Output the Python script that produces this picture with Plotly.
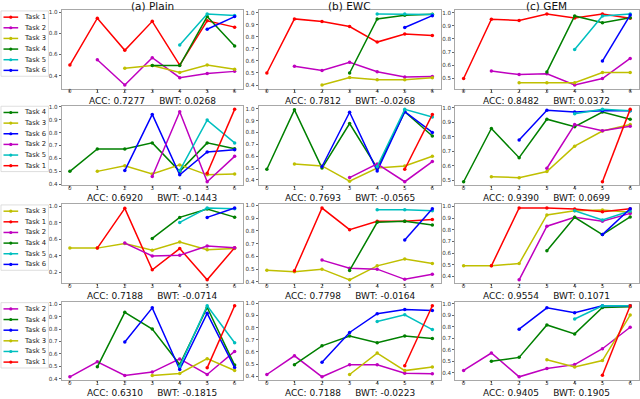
import plotly.graph_objects as go
from plotly.subplots import make_subplots

# ---------------- data ----------------
STEPS = [0, 1, 2, 3, 4, 5, 6]
METHODS = ["(a) Plain", "(b) EWC", "(c) GEM"]
TASK_COLORS = {"Task 1": "#ff0000", "Task 2": "#bf00bf", "Task 3": "#bfbf00",
               "Task 4": "#008000", "Task 5": "#00bfbf", "Task 6": "#0000ff"}

ORDER_1 = ["Task 1", "Task 2", "Task 3", "Task 4", "Task 5", "Task 6"]
ORDER_2 = ["Task 4", "Task 3", "Task 6", "Task 2", "Task 5", "Task 1"]
ORDER_3 = ["Task 3", "Task 1", "Task 2", "Task 4", "Task 5", "Task 6"]
ORDER_4 = ["Task 2", "Task 4", "Task 6", "Task 3", "Task 5", "Task 1"]

# accuracy of each task after each training step (task k of the order starts at step k)
PLAIN_1 = {"Task 1": [0.50, 0.945, 0.64, 0.915, 0.50, 0.92, 0.86],
           "Task 2": [0.55, 0.31, 0.57, 0.38, 0.42, 0.44],
           "Task 3": [0.47, 0.495, 0.43, 0.50, 0.46],
           "Task 4": [0.495, 0.495, 0.96, 0.68],
           "Task 5": [0.69, 0.985, 0.97],
           "Task 6": [0.84, 0.96]}
EWC_1 = {"Task 1": [0.50, 0.948, 0.926, 0.885, 0.756, 0.822, 0.81],
         "Task 2": [0.556, 0.52, 0.589, 0.51, 0.466, 0.47],
         "Task 3": [0.40, 0.463, 0.444, 0.444, 0.46],
         "Task 4": [0.50, 0.948, 0.978, 0.986],
         "Task 5": [0.989, 0.989, 0.985],
         "Task 6": [0.877, 0.975]}
GEM_1 = {"Task 1": [0.50, 0.95, 0.94, 0.99, 0.96, 0.99, 0.957],
         "Task 2": [0.556, 0.53, 0.535, 0.45, 0.50, 0.652],
         "Task 3": [0.467, 0.467, 0.467, 0.546, 0.546],
         "Task 4": [0.55, 0.975, 0.924, 0.962],
         "Task 5": [0.72, 0.975, 0.99],
         "Task 6": [0.632, 0.982]}

PLAIN_2 = {"Task 4": [0.50, 0.673, 0.673, 0.72, 0.50, 0.72, 0.675],
           "Task 3": [0.50, 0.543, 0.48, 0.55, 0.473, 0.48],
           "Task 6": [0.506, 0.94, 0.473, 0.65, 0.667],
           "Task 2": [0.46, 0.96, 0.42, 0.616],
           "Task 5": [0.506, 0.896, 0.72],
           "Task 1": [0.486, 0.979]}
EWC_2 = {"Task 4": [0.49, 0.99, 0.50, 0.875, 0.50, 0.975, 0.77],
         "Task 3": [0.535, 0.518, 0.39, 0.50, 0.518, 0.60],
         "Task 6": [0.513, 0.97, 0.476, 0.975, 0.80],
         "Task 2": [0.42, 0.535, 0.385, 0.555],
         "Task 5": [0.513, 0.994, 0.93],
         "Task 1": [0.49, 0.95]}
GEM_2 = {"Task 4": [0.49, 0.858, 0.656, 0.922, 0.87, 0.972, 0.922],
         "Task 3": [0.525, 0.518, 0.56, 0.736, 0.84, 0.885],
         "Task 6": [0.778, 0.984, 0.972, 0.98, 0.98],
         "Task 2": [0.583, 0.885, 0.842, 0.874],
         "Task 5": [0.96, 0.99, 0.98],
         "Task 1": [0.49, 0.99]}

PLAIN_3 = {"Task 3": [0.495, 0.495, 0.55, 0.47, 0.568, 0.475, 0.49],
           "Task 1": [0.495, 0.976, 0.232, 0.49, 0.111, 0.50],
           "Task 2": [0.556, 0.40, 0.41, 0.52, 0.50],
           "Task 4": [0.612, 0.867, 0.968, 0.87],
           "Task 5": [0.806, 0.98, 0.97],
           "Task 6": [0.867, 0.98]}
EWC_3 = {"Task 3": [0.492, 0.48, 0.50, 0.416, 0.526, 0.58, 0.545],
         "Task 1": [0.487, 0.98, 0.81, 0.876, 0.876, 0.89],
         "Task 2": [0.571, 0.508, 0.50, 0.42, 0.46],
         "Task 4": [0.49, 0.868, 0.876, 0.847],
         "Task 5": [0.966, 0.966, 0.958],
         "Task 6": [0.73, 0.974]}
GEM_3 = {"Task 3": [0.49, 0.49, 0.51, 0.927, 0.963, 0.969, 0.95],
         "Task 1": [0.49, 0.986, 0.986, 0.977, 0.955, 0.98],
         "Task 2": [0.37, 0.83, 0.907, 0.873, 0.94],
         "Task 4": [0.62, 0.907, 0.758, 0.91],
         "Task 5": [0.963, 0.884, 0.96],
         "Task 6": [0.758, 0.98]}

PLAIN_4 = {"Task 2": [0.416, 0.536, 0.427, 0.454, 0.56, 0.435, 0.62],
           "Task 4": [0.496, 0.934, 0.80, 0.515, 0.973, 0.51],
           "Task 6": [0.695, 0.97, 0.475, 0.926, 0.49],
           "Task 3": [0.427, 0.443, 0.562, 0.467],
           "Task 5": [0.50, 0.987, 0.69],
           "Task 1": [0.488, 0.987]}
EWC_4 = {"Task 2": [0.414, 0.568, 0.395, 0.495, 0.495, 0.424, 0.42],
         "Task 4": [0.495, 0.65, 0.73, 0.676, 0.73, 0.71],
         "Task 6": [0.514, 0.76, 0.914, 0.949, 0.94],
         "Task 3": [0.414, 0.59, 0.446, 0.476],
         "Task 5": [0.85, 0.905, 0.784],
         "Task 1": [0.486, 0.98]}
GEM_4 = {"Task 2": [0.42, 0.572, 0.365, 0.437, 0.471, 0.609, 0.796],
         "Task 4": [0.50, 0.534, 0.816, 0.738, 0.968, 0.974],
         "Task 6": [0.779, 0.965, 0.922, 0.983, 0.983],
         "Task 3": [0.514, 0.451, 0.506, 0.902],
         "Task 5": [0.868, 0.983, 0.983],
         "Task 1": [0.379, 0.983]}

ACC = [["0.7277", "0.7812", "0.8482"],
       ["0.6920", "0.7693", "0.9390"],
       ["0.7188", "0.7798", "0.9554"],
       ["0.6310", "0.7188", "0.9405"]]
BWT = [["0.0268", "-0.0268", "0.0372"],
       ["-0.1443", "-0.0565", "0.0699"],
       ["-0.0714", "-0.0164", "0.1071"],
       ["-0.1815", "-0.0223", "0.1905"]]

ROWS = [(ORDER_1, [PLAIN_1, EWC_1, GEM_1]),
        (ORDER_2, [PLAIN_2, EWC_2, GEM_2]),
        (ORDER_3, [PLAIN_3, EWC_3, GEM_3]),
        (ORDER_4, [PLAIN_4, EWC_4, GEM_4])]

# ---------------- layout (pixels) ----------------
W, H = 640, 399
COL_PX = [(61.75, 243.25), (259.0, 441.3), (456.0, 639.5)]
ROW_PX = [(8.5, 87.5), (104.8, 185.2), (204.5, 284.3), (303.2, 382.2)]
DTICKS = [[0.2, 0.1, 0.1], [0.1, 0.1, 0.1], [0.2, 0.1, 0.1], [0.1, 0.1, 0.1]]
FONT = "DejaVu Sans"
SPINE = "#a8a8a8"


def px_x(p):
    return p / W


def px_y(p):
    return 1 - p / H


fig = make_subplots(rows=4, cols=3)

for r, (order, dicts) in enumerate(ROWS):
    for c, data in enumerate(dicts):
        allv = []
        for k, task in enumerate(order):
            vals = data[task]
            allv += vals
            fig.add_trace(go.Scatter(
                x=STEPS[k:k + len(vals)], y=vals, mode="lines+markers",
                line=dict(color=TASK_COLORS[task], width=1.5),
                marker=dict(color=TASK_COLORS[task], size=3.5),
                name=task, showlegend=False, hoverinfo="skip"),
                row=r + 1, col=c + 1)
        lo, hi = min(allv), max(allv)
        pad = 0.05 * (hi - lo)
        x0, x1 = COL_PX[c]
        y0, y1 = ROW_PX[r]
        fig.update_xaxes(domain=[px_x(x0), px_x(x1)], range=[-0.3, 6.3],
                         tickmode="linear", tick0=0, dtick=1,
                         showgrid=False, zeroline=False, showline=True, mirror=True,
                         linecolor=SPINE, linewidth=1, ticks="outside", ticklen=2,
                         tickcolor="#666", tickwidth=0.8, ticklabelstandoff=-5,
                         tickfont=dict(family=FONT, size=5.6, color="#333"),
                         row=r + 1, col=c + 1)
        fig.update_yaxes(domain=[px_y(y1), px_y(y0)], range=[lo - pad, hi + pad],
                         tickmode="linear", tick0=0, dtick=DTICKS[r][c], tickformat=".1f",
                         showgrid=False, zeroline=False, showline=True, mirror=True,
                         linecolor=SPINE, linewidth=1, ticks="outside", ticklen=2,
                         tickcolor="#666", tickwidth=0.8,
                         tickfont=dict(family=FONT, size=5.6, color="#333"),
                         row=r + 1, col=c + 1)
        # ACC / BWT caption
        fig.add_annotation(
            xref="paper", yref="paper", x=px_x((x0 + x1) / 2), y=px_y(y1 + 13),
            text="ACC: " + ACC[r][c] + "\u00a0\u00a0\u00a0\u00a0\u00a0BWT: " + BWT[r][c],
            showarrow=False, xanchor="center", yanchor="middle",
            font=dict(family=FONT, size=9, color="#111"))

    # legend drawn per row
    top = ROW_PX[r][0]
    fig.add_shape(type="rect", xref="paper", yref="paper",
                  x0=px_x(1), x1=px_x(48.5), y0=px_y(top + 66.5), y1=px_y(top + 0.5),
                  line=dict(color="#d6d6d6", width=0.8), fillcolor="white", layer="above")
    for k, task in enumerate(order):
        yy = top + 6.8 + k * 10.75
        col = TASK_COLORS[task]
        fig.add_shape(type="line", xref="paper", yref="paper",
                      x0=px_x(3.5), x1=px_x(18.2), y0=px_y(yy), y1=px_y(yy),
                      line=dict(color=col, width=1.5), layer="above")
        fig.add_shape(type="circle", xref="paper", yref="paper",
                      x0=px_x(9.2), x1=px_x(12.4), y0=px_y(yy + 1.6), y1=px_y(yy - 1.6),
                      line=dict(color=col, width=0), fillcolor=col, layer="above")
        fig.add_annotation(xref="paper", yref="paper", x=px_x(22.5), y=px_y(yy),
                           text=task, showarrow=False, xanchor="left", yanchor="middle",
                           font=dict(family=FONT, size=6.8, color="#222"))

# column titles
for c, m in enumerate(METHODS):
    x0, x1 = COL_PX[c]
    fig.add_annotation(xref="paper", yref="paper", x=px_x((x0 + x1) / 2), y=px_y(4.3),
                       text=m, showarrow=False, xanchor="center", yanchor="middle",
                       font=dict(family=FONT, size=10.5, color="#111"))

fig.update_layout(width=W, height=H, margin=dict(l=0, r=0, t=0, b=0),
                  paper_bgcolor="white", plot_bgcolor="white", showlegend=False,
                  font=dict(family=FONT))

fig.write_html("out.html", config={"displayModeBar": False},
               post_script="document.body.style.margin='0';document.body.style.padding='0';")
